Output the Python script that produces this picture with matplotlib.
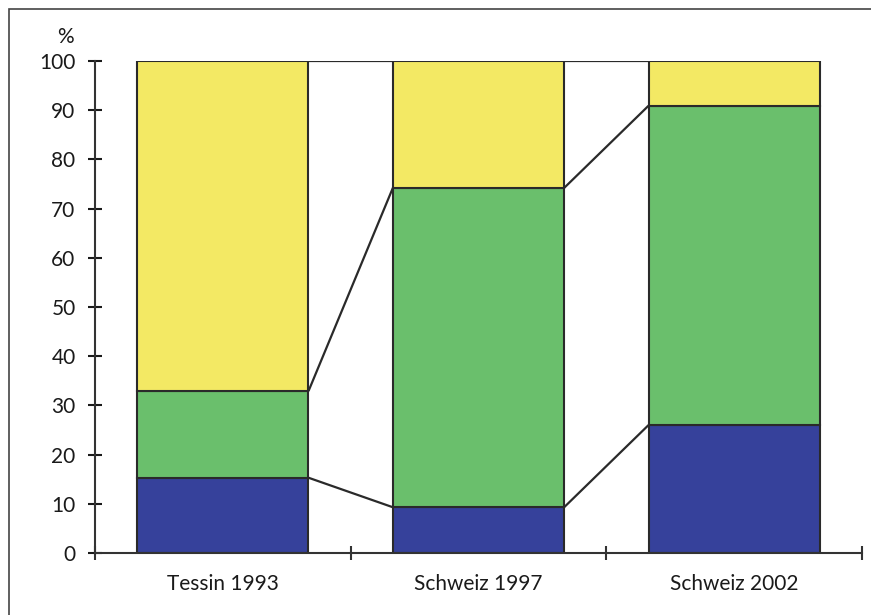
import numpy as np
import matplotlib
matplotlib.use('Agg')
import matplotlib.pyplot as plt
from matplotlib.patches import Rectangle

plt.rcParams['font.family'] = ['Lato', 'DejaVu Sans']

# data
categories = ['Tessin 1993', 'Schweiz 1997', 'Schweiz 2002']
blue = [15.3, 9.3, 26.0]
green = [17.6, 64.9, 64.9]
yellow = [67.1, 25.8, 9.1]

colors = ['#36419b', '#6abf6c', '#f3e964']
edge = '#2a2a2a'

fig = plt.figure(figsize=(8.71, 6.15), dpi=100)
ax = fig.add_axes([95/871, 62/615, 767/871, 492/615])

x = np.arange(len(categories))
w = 0.67
bottom = np.zeros(len(categories))
for vals, c in zip([blue, green, yellow], colors):
    ax.bar(x, vals, w, bottom=bottom, color=c, edgecolor=edge, linewidth=1.5, zorder=2)
    bottom = bottom + np.array(vals)
    # connector lines between the bars
    for i in range(len(categories) - 1):
        ax.plot([x[i] + w/2, x[i+1] - w/2], [bottom[i], bottom[i+1]],
                color=edge, linewidth=1.6, zorder=3, solid_capstyle='butt')

ax.set_xlim(-0.5, 2.5)
ax.set_ylim(0, 100)
ax.set_yticks(np.arange(0, 101, 10))
ax.set_xticks(x)
ax.set_xticklabels(categories)
ax.set_xticks([-0.5, 0.5, 1.5, 2.5], minor=True)
ax.tick_params(axis='x', which='major', length=0, pad=15, labelsize=15, colors='#1a1a1a')
ax.tick_params(axis='x', which='minor', length=10, width=1.5, direction='inout', color='#333333')
ax.tick_params(axis='y', length=10, width=1.5, direction='inout', pad=9, labelsize=15,
               colors='#1a1a1a')
for s in ['top', 'right']:
    ax.spines[s].set_visible(False)
for s in ['left', 'bottom']:
    ax.spines[s].set_linewidth(1.5)
    ax.spines[s].set_color('#333333')
ax.spines['left'].set_zorder(4)

fig.text(74/871, 1 - 37/615, '%', ha='right', va='center', fontsize=15, color='#1a1a1a')

# frame around the whole picture (top and left edges visible)
fig.patches.append(Rectangle((9/871, -0.1), 1.2, 1 - 9/615 + 0.1, transform=fig.transFigure,
                             fill=False, edgecolor='#444444', linewidth=1.2))

fig.savefig('out.png', dpi=100)
